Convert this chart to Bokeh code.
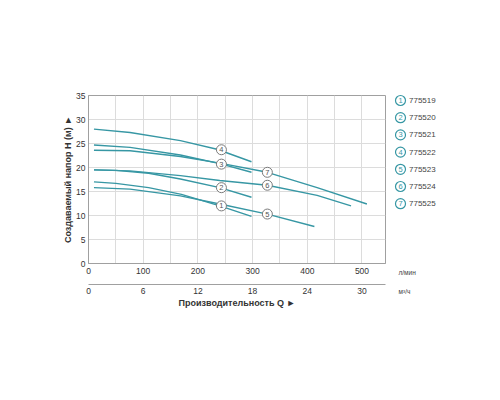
from bokeh.plotting import figure
from bokeh.models import Range1d, LinearAxis, SingleIntervalTicker, FixedTicker, ColumnDataSource
from bokeh.layouts import row
from bokeh.core.properties import value
from bokeh.embed import file_html
from bokeh.resources import INLINE

# ---- data ----
models = ["775519", "775520", "775521", "775522", "775523", "775524", "775525"]
numbers = ["1", "2", "3", "4", "5", "6", "7"]

q1 = [10, 50, 110, 170, 240, 298]
h1 = [17.0, 16.7, 15.8, 14.4, 12.0, 9.8]
q2 = [10, 50, 110, 168, 240, 298]
h2 = [19.5, 19.4, 18.8, 17.6, 15.8, 13.8]
q3 = [10, 76, 168, 240, 298]
h3 = [24.7, 24.2, 22.6, 20.8, 19.0]
q4 = [10, 76, 168, 235, 298]
h4 = [28.0, 27.3, 25.6, 23.8, 21.2]
q5 = [10, 76, 168, 240, 327, 413]
h5 = [15.8, 15.5, 14.1, 12.4, 10.3, 7.7]
q6 = [10, 76, 168, 240, 327, 418, 480]
h6 = [19.5, 19.3, 18.3, 17.3, 16.3, 14.2, 12.0]
q7 = [10, 76, 168, 240, 327, 418, 509]
h7 = [23.6, 23.5, 22.3, 20.9, 19.0, 15.8, 12.4]

label_q = [243, 243, 243, 243, 327, 327, 327]
label_h = [12.0, 15.8, 20.7, 23.7, 10.3, 16.3, 19.0]

lpm_ticks = [0, 100, 200, 300, 400, 500]
m3h_ticks = [0, 6, 12, 18, 24, 30]
h_ticks = [0, 5, 10, 15, 20, 25, 30, 35]
units = ["л/мин", "м³/ч"]
q_max = 543
h_max = 35

TEAL = "#3797a4"
FONT = "Liberation Sans"

p = figure(width=388, height=384, x_range=Range1d(0, q_max), y_range=Range1d(0, h_max),
           output_backend="svg", toolbar_location=None,
           min_border_left=88, min_border_right=3, min_border_top=95, min_border_bottom=121)
p.extra_x_ranges = {"m3h": Range1d(0, q_max * 60 / 1000)}

p.outline_line_color = "#a0a0a0"
p.background_fill_color = "white"
p.border_fill_color = "white"

p.xgrid.ticker = SingleIntervalTicker(interval=50)
p.ygrid.ticker = FixedTicker(ticks=h_ticks)
p.grid.grid_line_color = "#dcdcdc"
p.grid.grid_line_width = 1

p.xaxis.ticker = FixedTicker(ticks=lpm_ticks)
p.yaxis.ticker = FixedTicker(ticks=h_ticks)
for ax in [p.xaxis[0], p.yaxis[0]]:
    ax.axis_line_color = "#a0a0a0"
    ax.major_tick_out = 0
    ax.major_tick_in = 0
    ax.minor_tick_out = 0
    ax.minor_tick_in = 0
    ax.major_label_text_font = FONT
    ax.major_label_text_font_size = "8.5px"
    ax.major_label_text_color = "#333333"
p.xaxis[0].major_label_standoff = 4
p.xaxis[0].axis_label = " "
p.xaxis[0].axis_label_text_font_size = "4px"
p.xaxis[0].axis_label_standoff = 0
p.yaxis[0].major_label_standoff = 3
p.yaxis[0].axis_label = "Создаваемый напор H (м) ►"
p.yaxis[0].axis_label_text_font = FONT
p.yaxis[0].axis_label_text_font_style = "bold"
p.yaxis[0].axis_label_text_font_size = "9px"
p.yaxis[0].axis_label_text_color = "#333333"
p.yaxis[0].axis_label_standoff = 0

ax2 = LinearAxis(x_range_name="m3h", ticker=FixedTicker(ticks=m3h_ticks))
ax2.axis_line_color = "#a0a0a0"
ax2.major_tick_out = 0
ax2.major_tick_in = 0
ax2.minor_tick_out = 0
ax2.minor_tick_in = 0
ax2.major_label_text_font = FONT
ax2.major_label_text_font_size = "8.5px"
ax2.major_label_text_color = "#333333"
ax2.major_label_standoff = 3
ax2.axis_label = "Производительность Q ►"
ax2.axis_label_text_font = FONT
ax2.axis_label_text_font_style = "bold"
ax2.axis_label_text_font_size = "9px"
ax2.axis_label_text_color = "#333333"
ax2.axis_label_standoff = 1
p.add_layout(ax2, "below")

for q, h in [(q1, h1), (q2, h2), (q3, h3), (q4, h4), (q5, h5), (q6, h6), (q7, h7)]:
    p.line(q, h, line_color=TEAL, line_width=1.4)

lab = ColumnDataSource(dict(x=label_q, y=label_h, t=numbers))
p.scatter("x", "y", source=lab, size=10, fill_color="white", line_color="#7a7a7a", line_width=1)
p.text("x", "y", text="t", source=lab, text_align="center", text_baseline="middle",
       text_font=value(FONT), text_font_size="7.5px", text_color="#555555")

# ---- legend panel (pixel-like coordinates, y downward) ----
lg = figure(width=96, height=384, x_range=Range1d(0, 96), y_range=Range1d(384, 0),
            output_backend="svg", toolbar_location=None, min_border=0,
            x_axis_type=None, y_axis_type=None)
lg.frame_align = False
lg.grid.visible = False
lg.outline_line_color = None
lg.border_fill_color = "white"
lg.background_fill_color = "white"
n = len(models)
lg_y = [100 + 17.2 * i for i in range(n)]
lsrc = ColumnDataSource(dict(x=[12] * n, tx=[20.5] * n, y=lg_y, nn=numbers, m=models))
lg.scatter("x", "y", source=lsrc, size=10, fill_color="white", line_color=TEAL, line_width=1.2)
lg.text("x", "y", text="nn", source=lsrc, text_align="center", text_baseline="middle",
        text_font=value(FONT), text_font_size="7.5px", text_color=TEAL)
lg.text("tx", "y", text="m", source=lsrc, text_align="left", text_baseline="middle",
        text_font=value(FONT), text_font_size="8px", text_color="#444444")
usrc = ColumnDataSource(dict(x=[10, 10], y=[272, 291], t=units))
lg.text("x", "y", text="t", source=usrc, text_align="left", text_baseline="middle",
        text_font=value(FONT), text_font_size="6.5px", text_color="#444444")

layout = row(p, lg)
open("out.html", "w").write(file_html(layout, INLINE))
